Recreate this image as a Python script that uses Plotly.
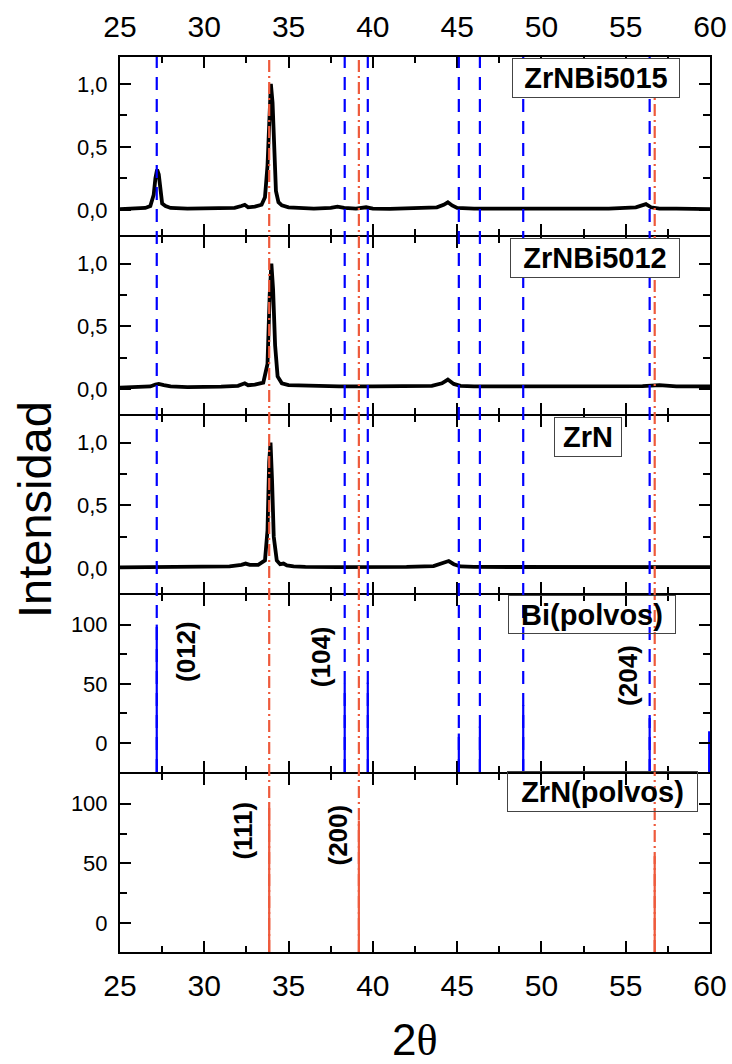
import plotly.graph_objects as go

# ---------------- data ----------------
# XRD patterns (normalised intensity) of the films
x_5015 = [25.0, 25.5, 26.0, 26.5, 26.8, 27.0, 27.1, 27.2, 27.3, 27.4, 27.5, 27.7, 28.0, 29.0, 30.0,
          31.0, 31.8, 32.2, 32.4, 32.6, 33.0, 33.4, 33.6, 33.75, 33.85, 33.95, 34.05, 34.15, 34.25,
          34.4, 34.6, 35.0, 35.5, 36.5, 37.5, 37.9, 38.3, 39.0, 39.6, 40.0, 41.0, 42.0, 43.0, 43.8,
          44.2, 44.45, 44.7, 45.0, 46.0, 48.0, 50.0, 52.0, 54.0, 55.6, 56.0, 56.2, 56.5, 57.0, 58.0,
          59.0, 60.0]
y_5015 = [0.005, 0.008, 0.01, 0.015, 0.03, 0.12, 0.25, 0.32, 0.28, 0.12, 0.05, 0.03, 0.015, 0.01, 0.01,
          0.012, 0.015, 0.03, 0.04, 0.02, 0.025, 0.04, 0.1, 0.35, 0.8, 1.0, 0.85, 0.45, 0.15,
          0.06, 0.035, 0.02, 0.015, 0.01, 0.015, 0.025, 0.015, 0.01, 0.02, 0.01, 0.008, 0.01, 0.012, 0.02,
          0.04, 0.06, 0.035, 0.015, 0.01, 0.01, 0.01, 0.01, 0.01, 0.02, 0.04, 0.045, 0.02, 0.01, 0.01,
          0.008, 0.005]

x_5012 = [25.0, 26.0, 26.8, 27.1, 27.3, 27.6, 28.0, 29.0, 30.0, 31.0, 32.0, 32.4, 32.6, 33.0, 33.5,
          33.75, 33.88, 33.98, 34.08, 34.2, 34.35, 34.6, 35.0, 36.0, 38.0, 40.0, 42.0, 43.5, 44.1,
          44.45, 44.8, 45.2, 46.0, 48.0, 50.0, 52.0, 54.0, 56.0, 57.0, 58.0, 60.0]
y_5012 = [0.01, 0.012, 0.02, 0.035, 0.04, 0.03, 0.02, 0.015, 0.015, 0.018, 0.025, 0.045, 0.03, 0.035, 0.05,
          0.2, 0.75, 1.0, 0.8, 0.35, 0.1, 0.045, 0.03, 0.025, 0.02, 0.02, 0.02, 0.025, 0.045,
          0.075, 0.04, 0.025, 0.02, 0.02, 0.02, 0.02, 0.02, 0.022, 0.03, 0.02, 0.02]

x_zrn = [25.0, 27.0, 29.0, 30.5, 31.5, 32.2, 32.45, 32.7, 33.2, 33.6, 33.75, 33.85, 33.93, 34.02, 34.12,
         34.3, 34.5, 34.7, 34.9, 35.3, 36.0, 38.0, 40.0, 42.0, 43.6, 44.2, 44.5, 44.8, 45.2, 46.0,
         48.0, 50.0, 52.0, 54.0, 56.0, 58.0, 60.0]
y_zrn = [0.005, 0.005, 0.006, 0.008, 0.012, 0.025, 0.035, 0.025, 0.025, 0.06, 0.3, 0.85, 1.0, 0.7, 0.25,
         0.06, 0.03, 0.035, 0.02, 0.012, 0.008, 0.006, 0.006, 0.008, 0.015, 0.04, 0.055, 0.03, 0.012, 0.008,
         0.008, 0.006, 0.006, 0.006, 0.008, 0.006, 0.006]

# Reference powder patterns (stick positions and relative intensities)
bi_pos = [27.18, 38.33, 39.70, 45.10, 46.35, 48.92, 56.42, 59.95]
bi_int = [100, 50, 51, 8, 14, 32, 21, 10]
zrn_pos = [33.85, 39.17, 56.72]
zrn_int = [100, 86, 56]

# Guide lines through all panels
bi_guides = [27.18, 38.33, 39.70, 45.10, 46.35, 48.92, 56.42]
zrn_guides = [33.85, 39.17, 56.72]

panel_names = ["ZrNBi5015", "ZrNBi5012", "ZrN", "Bi(polvos)", "ZrN(polvos)"]
x_ticks = [25, 30, 35, 40, 45, 50, 55, 60]
norm_ticks = [0.0, 0.5, 1.0]
norm_ticktext = ["0,0", "0,5", "1,0"]
pdf_ticks = [0, 50, 100]

# ---------------- layout helpers ----------------
FONT = "Liberation Sans, Arial, sans-serif"
BLUE = "#0000ff"
RED = "#ee5a3c"
NORM_RANGE = [-0.2, 1.213]
PDF_RANGE = [-24.5, 125]
LINE_W = 2

W, H = 732, 1064
ML, MR, MT, MB = 120, 22, 57, 112
plot_w = W - ML - MR
plot_h = H - MT - MB

fig = go.Figure()

n = 5
# Panels share their frame lines: each domain is pulled in by half a line width
# at inner edges so neighbouring axis lines are drawn on the same pixels.
bounds = [k * plot_h / n for k in range(n + 1)]
domains = []
for i in range(n):
    top_px = bounds[i] + (LINE_W / 2 if i > 0 else 0)
    bot_px = bounds[i + 1] - (LINE_W / 2 if i < n - 1 else 0)
    domains.append([1 - bot_px / plot_h, 1 - top_px / plot_h])

def axname(i, kind):
    return kind if i == 0 else f"{kind}{i + 1}"

for i, (xs, ys) in enumerate([(x_5015, y_5015), (x_5012, y_5012), (x_zrn, y_zrn)]):
    fig.add_trace(go.Scatter(x=xs, y=ys, mode="lines",
                             line=dict(color="black", width=3.8),
                             xaxis=axname(i, "x"), yaxis=axname(i, "y"),
                             showlegend=False, hoverinfo="skip"))

def sticks(pos, inten, base):
    sx, sy = [], []
    for p, v in zip(pos, inten):
        sx += [p, p, None]
        sy += [base, v, None]
    return sx, sy

sx, sy = sticks(bi_pos, bi_int, PDF_RANGE[0])
fig.add_trace(go.Scatter(x=sx, y=sy, mode="lines", line=dict(color=BLUE, width=2.2),
                         xaxis="x4", yaxis="y4", showlegend=False, hoverinfo="skip"))
sx, sy = sticks(zrn_pos, zrn_int, PDF_RANGE[0])
fig.add_trace(go.Scatter(x=sx, y=sy, mode="lines", line=dict(color=RED, width=2.2),
                         xaxis="x5", yaxis="y5", showlegend=False, hoverinfo="skip"))

axis_common = dict(showline=True, linecolor="black", linewidth=LINE_W, mirror="ticks",
                   ticks="inside", tickcolor="black", tickwidth=1.8, ticklen=11,
                   showgrid=False, zeroline=False,
                   tickfont=dict(family=FONT, size=22, color="black"))

layout = {}
for i in range(n):
    xa = dict(axis_common)
    xa.update(domain=[0, 1], range=[25, 60], tickvals=x_ticks,
              minor=dict(ticks="inside", ticklen=6, tickwidth=1.8, tickcolor="black",
                         dtick=2.5, tick0=25, showgrid=False),
              anchor=axname(i, "y"), ticklabelstandoff=6,
              tickfont=dict(family=FONT, size=30, color="black"))
    if i > 0:
        xa["matches"] = "x"
    if i == 0:
        xa["side"] = "top"
        xa["showticklabels"] = True
    elif i == n - 1:
        xa["side"] = "bottom"
        xa["showticklabels"] = True
    else:
        xa["showticklabels"] = False
    layout[axname(i, "xaxis")] = xa

    ya = dict(axis_common)
    ya.update(domain=domains[i], anchor=axname(i, "x"), ticklabelstandoff=6)
    if i < 3:
        ya.update(range=NORM_RANGE, tickvals=norm_ticks, ticktext=norm_ticktext,
                  minor=dict(ticks="inside", ticklen=7, tickwidth=1.8, tickcolor="black",
                             dtick=0.25, tick0=0, showgrid=False))
    else:
        ya.update(range=PDF_RANGE, tickvals=pdf_ticks,
                  minor=dict(ticks="inside", ticklen=7, tickwidth=1.8, tickcolor="black",
                             dtick=25, tick0=0, showgrid=False))
    layout[axname(i, "yaxis")] = ya

fig.update_layout(**layout)

# Guide lines across the panels
shapes = []
for g in bi_guides:
    shapes.append(dict(type="line", xref="x", yref="paper", x0=g, x1=g,
                       y0=domains[3][0], y1=1,
                       line=dict(color=BLUE, width=2.2, dash="13px,9px")))
for g in zrn_guides:
    shapes.append(dict(type="line", xref="x", yref="paper", x0=g, x1=g, y0=0, y1=1,
                       line=dict(color=RED, width=2.2, dash="12px,4px,2px,4px")))

# Panel labels in boxes
box_specs = [  # (x centre, y centre, width, height, opaque)
    (53.24, 1.047, 166, 38, True),
    (53.16, 1.047, 168, 38, True),
    (52.76, 1.047, 66, 38, True),
    (53.00, 108.7, 166, 37, False),
    (53.62, 110.4, 189, 39, False),
]
annotations = []
for i, (name, (bx, by, bw, bh, opaque)) in enumerate(zip(panel_names, box_specs)):
    annotations.append(dict(text=f"<b>{name}</b>", x=bx, y=by,
                            xref=axname(i, "x"), yref=axname(i, "y"),
                            xanchor="center", yanchor="middle", showarrow=False,
                            width=bw, height=bh, borderpad=0,
                            bordercolor="#444", borderwidth=1,
                            bgcolor="white" if opaque else "rgba(0,0,0,0)",
                            font=dict(family=FONT, size=29, color="black")))

# Miller indices next to the reference sticks
hkl_specs = [("(012)", 28.9, 77.5, 3), ("(104)", 36.9, 73, 3), ("(204)", 55.1, 57, 3),
             ("(111)", 32.32, 77.8, 4), ("(200)", 37.95, 73.6, 4)]
for txt, hx, hy, i in hkl_specs:
    annotations.append(dict(text=f"<b>{txt}</b>", x=hx, y=hy,
                            xref=axname(i, "x"), yref=axname(i, "y"),
                            textangle=-90, showarrow=False,
                            xanchor="center", yanchor="middle",
                            font=dict(family=FONT, size=26, color="black")))

# Axis titles (positions given in pixels, converted to paper units)
annotations.append(dict(text="Intensidad", x=(35 - ML) / plot_w, y=(H - MB - 510) / plot_h,
                        xref="paper", yref="paper", showarrow=False, textangle=-90,
                        xanchor="center", yanchor="middle",
                        font=dict(family=FONT, size=47, color="black")))
annotations.append(dict(text="2<span style='font-family:Liberation Serif'>θ</span>",
                        x=(415 - ML) / plot_w, y=(H - MB - 1040) / plot_h,
                        xref="paper", yref="paper", showarrow=False,
                        xanchor="center", yanchor="middle",
                        font=dict(family=FONT, size=44, color="black")))

fig.update_layout(
    width=W, height=H,
    margin=dict(l=ML, r=MR, t=MT, b=MB, autoexpand=False),
    paper_bgcolor="white", plot_bgcolor="white",
    shapes=shapes, annotations=annotations, showlegend=False,
)

fig.write_html("out.html")
